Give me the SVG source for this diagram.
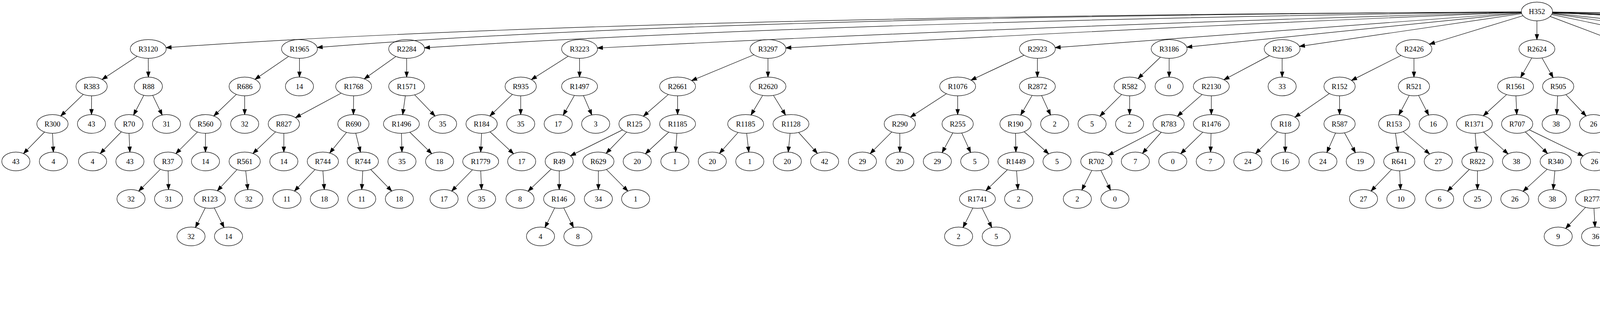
<svg xmlns="http://www.w3.org/2000/svg" width="6432" height="827" viewBox="0 0 6432 827">
<defs>
<style>
.n ellipse{fill:none;stroke:#000;stroke-width:1.2}
.n text{font-family:"Liberation Serif","Times New Roman",serif;font-size:18.67px;text-anchor:middle;fill:#000}
.e path{fill:none;stroke:#000;stroke-width:1.2;marker-end:url(#ah)}
</style>
<marker id="ah" markerUnits="userSpaceOnUse" markerWidth="16" markerHeight="12" refX="13.3" refY="4.7" orient="auto" overflow="visible"><path d="M0,0 L13.3,4.7 L0,9.4 z" fill="#000" stroke="#000" stroke-width="1.2"/></marker>
</defs>
<rect width="6432" height="827" fill="#fff"/>
<g id="edges" class="e">
<path d="M3894.5,30.4 Q1535.3,42.3 425.1,122.1"/>
<path d="M3894.5,30.5 Q1798.4,42.3 812,121.6"/>
<path d="M3894.5,30.6 Q2153.7,53.6 1086.7,122.4"/>
<path d="M3894.5,30.9 Q2593.6,67.7 1529.4,123"/>
<path d="M3894.6,31.2 Q2896.7,72.4 2011.7,122.7"/>
<path d="M3894.8,32.3 L2701.2,121.9"/>
<path d="M3895.1,33.3 L3038.1,120.7"/>
<path d="M3895.6,35 L3326.6,118.8"/>
<path d="M3898.8,40.2 L3659.4,113.2"/>
<path d="M3934.5,53.3 L3934.5,101.3"/>
<path d="M3968.4,42.1 L4151.3,111.2"/>
<path d="M3972.3,37.2 L4351.9,116.4"/>
<path d="M3973.4,34.9 L4554.2,118.9"/>
<path d="M3973.9,33.6 L4768,120.4"/>
<path d="M3974.1,32.8 Q4568.9,54.1 4965.5,118"/>
<path d="M3974.2,32.2 Q4688.8,65.8 5206.3,120.5"/>
<path d="M3974.3,31.5 Q4874.7,69.6 5611.4,122.1"/>
<path d="M3974.4,31.1 Q5172.3,63 6039.7,122.2"/>
<path d="M3974.4,30.9 Q5682.2,48.8 6251.5,120.5"/>
<path d="M351,144.2 L261.4,203.5"/>
<path d="M379.5,149.3 L379.8,197.3"/>
<path d="M213.3,241.6 L155.5,297"/>
<path d="M234.5,245.3 L234.2,293.3"/>
<path d="M368.1,244 L341.9,294.6"/>
<path d="M390.9,244.1 L415.2,294.5"/>
<path d="M114.1,338 L60.2,393.2"/>
<path d="M134.4,341.3 L136.6,389.3"/>
<path d="M310.6,337.5 L256.6,393.1"/>
<path d="M330.3,341.3 L332.5,389.3"/>
<path d="M738.7,144.4 L652.8,203.3"/>
<path d="M766.6,149.3 L766.6,197.3"/>
<path d="M605.1,241.6 L547.3,297"/>
<path d="M626.4,245.3 L626.4,293.3"/>
<path d="M505.5,337.9 L450.3,393.3"/>
<path d="M526,341.3 L526,389.3"/>
<path d="M410.6,433.3 L355.2,489.3"/>
<path d="M430.4,437.3 L431.5,485.3"/>
<path d="M1013.7,144.6 L932.6,202"/>
<path d="M1041,149.3 L1041,197.3"/>
<path d="M873.3,238.5 L756.4,301.3"/>
<path d="M905.3,245.3 L904.7,293.3"/>
<path d="M705.4,337.6 L647.6,393"/>
<path d="M726.6,341.3 L726.6,389.3"/>
<path d="M606.9,434.2 L556.5,488.4"/>
<path d="M629,437.2 L634.4,485.4"/>
<path d="M525.5,532.3 L500.4,582.5"/>
<path d="M548.5,532.3 L573.6,582.5"/>
<path d="M887.1,338.9 L844.1,391.7"/>
<path d="M910.7,341 L922.8,389.6"/>
<path d="M806.6,434.1 L753.9,489.1"/>
<path d="M826.6,437.3 L830.2,485.3"/>
<path d="M928.7,437.3 L926.1,485.3"/>
<path d="M949,434 L1002.8,489.2"/>
<path d="M1037.7,245.2 L1030.9,293.4"/>
<path d="M1061.6,242.8 L1113.6,297.1"/>
<path d="M1027.6,341.3 L1029,389.3"/>
<path d="M1049.2,338.5 L1105.2,393.4"/>
<path d="M1454.5,143.9 L1360.4,203.8"/>
<path d="M1483.6,149.3 L1483.6,197.3"/>
<path d="M1311.8,241.6 L1254.1,297"/>
<path d="M1333,245.3 L1333,293.3"/>
<path d="M1232.9,341.3 L1230.5,389.3"/>
<path d="M1254.5,337.5 L1314.6,393.8"/>
<path d="M1209.6,434.7 L1156.4,489.2"/>
<path d="M1230.6,437.3 L1232.8,485.3"/>
<path d="M1470.5,244.3 L1441.8,294.9"/>
<path d="M1493.7,244.7 L1515,294.2"/>
<path d="M1930,140.2 L1770.6,206.4"/>
<path d="M1966,149.3 L1966,197.3"/>
<path d="M1711,241.9 L1647.1,297.5"/>
<path d="M1734.6,245.3 L1734.6,293.3"/>
<path d="M1593.6,332.6 L1460.4,398.9"/>
<path d="M1604.4,338.1 L1551.8,392.5"/>
<path d="M1411,433 L1351.9,489.6"/>
<path d="M1431.6,437.3 L1431.6,485.3"/>
<path d="M1420.1,532.3 L1395.1,582.5"/>
<path d="M1443.1,532.3 L1468.1,582.5"/>
<path d="M1531.8,437.3 L1531.8,485.3"/>
<path d="M1552.3,433.9 L1607.3,489.3"/>
<path d="M1712.1,338.2 L1652.3,393.8"/>
<path d="M1732.9,341.3 L1729.4,389.3"/>
<path d="M1952.4,244.2 L1922.5,294.4"/>
<path d="M1980,244.2 L2010.9,294.4"/>
<path d="M1889.5,339.1 L1841.9,392.7"/>
<path d="M1911.5,341.2 L1916.9,389.4"/>
<path d="M2022.6,341.3 L2017.9,389.3"/>
<path d="M2044.4,339 L2092.5,392.7"/>
<path d="M2621.5,141.4 L2485.8,205.2"/>
<path d="M2655.7,149.3 L2655.7,197.3"/>
<path d="M2422.8,240 L2330.7,299.7"/>
<path d="M2451.6,245.3 L2451.6,293.3"/>
<path d="M2283,337.9 L2227.7,393.3"/>
<path d="M2303.5,341.3 L2303.5,389.3"/>
<path d="M2439.2,340.1 L2411.8,390.7"/>
<path d="M2462.1,340.5 L2484.8,390.3"/>
<path d="M2642.3,244.3 L2612.9,294.6"/>
<path d="M2666.5,244.6 L2689.4,294.4"/>
<path d="M2599.7,341.3 L2600.7,389.3"/>
<path d="M2621.8,337.3 L2684.6,394"/>
<path d="M2579,434.5 L2523.9,488.1"/>
<path d="M2602.4,437.3 L2605.9,485.3"/>
<path d="M2490.5,532.5 L2465.4,582.5"/>
<path d="M2513.9,532.5 L2539,582.5"/>
<path d="M2970.9,146.3 L2913.4,201"/>
<path d="M2993,149.3 L2993,197.3"/>
<path d="M2871.4,241.9 L2815.7,297.4"/>
<path d="M2892,245.3 L2891.7,293.3"/>
<path d="M3250,142.4 L3133.3,204.2"/>
<path d="M3282.3,149.3 L3282.3,197.3"/>
<path d="M3077.5,241.9 L3014.2,297.5"/>
<path d="M3101,245.3 L3101,293.3"/>
<path d="M2961.4,333 L2836.9,397.6"/>
<path d="M2972.8,338.5 L2924.8,392.6"/>
<path d="M2795.1,436.3 L2769.5,486.6"/>
<path d="M2818.1,436.3 L2843,486.6"/>
<path d="M3079.3,338.4 L3022.7,393.5"/>
<path d="M3100.3,341.3 L3099,389.3"/>
<path d="M3586.6,142 L3459.9,205.9"/>
<path d="M3619.7,149.3 L3619.7,197.3"/>
<path d="M3403.1,239.4 L3315.2,300"/>
<path d="M3429.3,245.3 L3429.3,293.3"/>
<path d="M3270.3,337.3 L3214.4,393.3"/>
<path d="M3290.2,341.3 L3290.2,389.3"/>
<path d="M3419,340.5 L3396.8,390.3"/>
<path d="M3441.9,340.1 L3469.9,390.8"/>
<path d="M3607.6,244.2 L3581.2,294.4"/>
<path d="M3631.5,244.2 L3657.3,294.6"/>
<path d="M3572.4,341.2 L3578.9,389.4"/>
<path d="M3592.2,336.9 L3659.8,394.4"/>
<path d="M3562.3,434.1 L3509.9,489.1"/>
<path d="M3583.2,437.3 L3585.3,485.3"/>
<path d="M3921.4,148.3 L3892.9,198.3"/>
<path d="M3947.5,148.3 L3976,198.6"/>
<path d="M3856.9,242.1 L3797.3,296.5"/>
<path d="M3880.8,245.3 L3882.9,293.3"/>
<path d="M3776.4,341.3 L3780.3,389.3"/>
<path d="M3797.7,338 L3860.6,394.1"/>
<path d="M3761.6,433.8 L3705.6,489.4"/>
<path d="M3782.3,437.3 L3782.3,485.3"/>
<path d="M3904.9,337.7 L3961.7,392.9"/>
<path d="M3915,332.4 L4052.8,399.2"/>
<path d="M3960.8,433.4 L3899.2,489.9"/>
<path d="M3980.5,437.3 L3976.2,485.3"/>
<path d="M3987.6,245.3 L3985.1,293.3"/>
<path d="M4008.6,242.2 L4060.3,297"/>
<path d="M4188.6,149.3 L4188.6,197.3"/>
<path d="M4212.2,145.9 L4276.7,202.2"/>
<path d="M4187.8,245.3 L4186,293.3"/>
<path d="M4212.6,241.8 L4277,296.8"/>
<path d="M4185.2,341.3 L4185.2,389.3"/>
<path d="M4209.7,337.6 L4276.5,393"/>
<path d="M4163.8,432.6 L4102.1,488.5"/>
<path d="M4187.8,437.2 L4192.9,485.3"/>
<path d="M4058.9,530.9 L4008.1,585"/>
<path d="M4080.5,533.3 L4083.3,581.3"/>
<path d="M4194.1,533.3 L4191.4,581.3"/>
<path d="M4215.9,530.8 L4267.3,585"/>
<path d="M4301,437.3 L4301,485.3"/>
<path d="M4322.3,434.6 L4377,489.3"/>
<path d="M4330.5,335.7 L4426.8,396"/>
<path d="M4338.2,331.4 L4523.1,401.4"/>
<path d="M4464.7,436.5 L4486.7,486.1"/>
<path d="M4481.1,431.2 L4571.4,492.2"/>
<path d="M4485.2,532.3 L4459.8,582.1"/>
<path d="M4510.2,532 L4540.3,583"/>
<path d="M4436.3,628.5 L4411.2,678.5"/>
<path d="M4459.6,628.5 L4484.5,678.5"/>
<path d="M4320.1,240.5 L4384.7,298.1"/>
<path d="M4327.9,235.1 L4473,303.5"/>
<path d="M4394.6,149.3 L4394.6,197.3"/>
<path d="M4415.8,146.6 L4470.4,201.3"/>
<path d="M4598.5,149.3 L4598.5,197.3"/>
<path d="M4622,145.9 L4684.1,200.7"/>
<path d="M4598.5,245.3 L4598.5,293.3"/>
<path d="M4619.1,241.9 L4674.5,297.3"/>
<path d="M4726.3,243.2 L4771.8,296.4"/>
<path d="M4739.6,238.5 L4858,302.2"/>
<path d="M4813,149.3 L4813,197.3"/>
<path d="M4834.3,146.6 L4889.1,201.3"/>
<path d="M5009.3,149.3 L5009.3,197.3"/>
<path d="M5031.2,146.4 L5088.7,201.6"/>
<path d="M5004.9,245.2 L4995.9,293.4"/>
<path d="M5029.2,242.1 L5081.4,296.5"/>
<path d="M4969.3,338.3 L4912.6,392.3"/>
<path d="M4992.4,341.3 L4994.6,389.3"/>
<path d="M4878.8,436.5 L4853.7,486.5"/>
<path d="M4902,436.5 L4926.7,486.5"/>
<path d="M5100.5,341.3 L5099,389.3"/>
<path d="M5121.4,338.1 L5174.7,393.1"/>
<path d="M5251.4,149.3 L5251.4,197.3"/>
<path d="M5280,144.1 L5370.2,203.6"/>
<path d="M5239.3,244.5 L5213,294.6"/>
<path d="M5262.4,244.6 L5286.1,294.4"/>
<path d="M5397.1,245.3 L5397.1,293.3"/>
<path d="M5418.3,241.7 L5476.5,297.6"/>
<path d="M5376.4,337.8 L5320.4,393.4"/>
<path d="M5397.1,341.3 L5397.1,389.3"/>
<path d="M5657,149.3 L5657,197.3"/>
<path d="M5692.5,140.5 L5848.5,207.4"/>
<path d="M5643.8,244.3 L5615.2,294.3"/>
<path d="M5670.1,244.3 L5698.8,294.6"/>
<path d="M5579.2,338.1 L5518.9,393.2"/>
<path d="M5600.7,341.3 L5598.1,389.3"/>
<path d="M5485.5,436.3 L5460.4,486.5"/>
<path d="M5508.5,436.3 L5533.8,486.5"/>
<path d="M5707.2,341.2 L5697.8,389.4"/>
<path d="M5729.2,338.9 L5772,392.2"/>
<path d="M5881,245.3 L5881,293.3"/>
<path d="M5902.2,241.7 L5960.4,297.6"/>
<path d="M5882,341.3 L5883.9,389.3"/>
<path d="M5902.2,337.7 L5960.4,393.6"/>
<path d="M6085.3,149.3 L6085.3,197.3"/>
<path d="M6108.1,146.2 L6168.9,201.9"/>
<path d="M6085.3,245.3 L6086.5,293.3"/>
<path d="M6108.3,242.1 L6170,298"/>
<path d="M6086.5,341.3 L6086.5,389.3"/>
<path d="M6110,337.9 L6173.3,393.5"/>
<path d="M6062.2,433.7 L5996.3,488.9"/>
<path d="M6086.5,437.3 L6087.2,485.3"/>
<path d="M5950.1,530.4 L5894.1,584.2"/>
<path d="M5973.2,533.3 L5975.8,581.3"/>
<path d="M5859.2,628.3 L5831,678.3"/>
<path d="M5884.5,628.4 L5911.3,678.7"/>
<path d="M5806.5,724.5 L5781.7,774.5"/>
<path d="M5829.7,724.5 L5855,774.6"/>
<path d="M6086,533.3 L6083.4,581.3"/>
<path d="M6107.6,530.8 L6159,585"/>
<path d="M6195.4,437.3 L6194.5,485.3"/>
<path d="M6216.2,434 L6270.3,489.2"/>
<path d="M6290.7,149.3 L6290.7,197.3"/>
<path d="M6311.9,145.7 L6370,201.6"/>
<path d="M6290.2,245.3 L6289.3,293.3"/>
<path d="M6311,242 L6365.4,297.2"/>
</g>
<g id="nodes">
<g id="n0" class="n"><ellipse cx="3934.5" cy="29.3" rx="40" ry="24"/><text x="3934.5" y="35.6">H352</text></g>
<g id="n1" class="n"><ellipse cx="379.5" cy="125.3" rx="46" ry="24"/><text x="379.5" y="131.6">R3120</text></g>
<g id="n2" class="n"><ellipse cx="766.6" cy="125.3" rx="46" ry="24"/><text x="766.6" y="131.6">R1965</text></g>
<g id="n3" class="n"><ellipse cx="1041" cy="125.3" rx="46" ry="24"/><text x="1041" y="131.6">R2284</text></g>
<g id="n4" class="n"><ellipse cx="1483.6" cy="125.3" rx="46" ry="24"/><text x="1483.6" y="131.6">R3223</text></g>
<g id="n5" class="n"><ellipse cx="1966" cy="125.3" rx="46" ry="24"/><text x="1966" y="131.6">R3297</text></g>
<g id="n6" class="n"><ellipse cx="2655.7" cy="125.3" rx="46" ry="24"/><text x="2655.7" y="131.6">R2923</text></g>
<g id="n7" class="n"><ellipse cx="2993" cy="125.3" rx="46" ry="24"/><text x="2993" y="131.6">R3186</text></g>
<g id="n8" class="n"><ellipse cx="3282.3" cy="125.3" rx="46" ry="24"/><text x="3282.3" y="131.6">R2136</text></g>
<g id="n9" class="n"><ellipse cx="3619.7" cy="125.3" rx="46" ry="24"/><text x="3619.7" y="131.6">R2426</text></g>
<g id="n10" class="n"><ellipse cx="3934.5" cy="125.3" rx="46" ry="24"/><text x="3934.5" y="131.6">R2624</text></g>
<g id="n11" class="n"><ellipse cx="4188.6" cy="125.3" rx="46" ry="24"/><text x="4188.6" y="131.6">R3298</text></g>
<g id="n12" class="n"><ellipse cx="4394.6" cy="125.3" rx="46" ry="24"/><text x="4394.6" y="131.6">R1648</text></g>
<g id="n13" class="n"><ellipse cx="4598.5" cy="125.3" rx="46" ry="24"/><text x="4598.5" y="131.6">R1001</text></g>
<g id="n14" class="n"><ellipse cx="4813" cy="125.3" rx="46" ry="24"/><text x="4813" y="131.6">R1121</text></g>
<g id="n15" class="n"><ellipse cx="5009.3" cy="125.3" rx="46" ry="24"/><text x="5009.3" y="131.6">R2841</text></g>
<g id="n16" class="n"><ellipse cx="5251.4" cy="125.3" rx="46" ry="24"/><text x="5251.4" y="131.6">R3232</text></g>
<g id="n17" class="n"><ellipse cx="5657" cy="125.3" rx="46" ry="24"/><text x="5657" y="131.6">R3184</text></g>
<g id="n18" class="n"><ellipse cx="6085.3" cy="125.3" rx="46" ry="24"/><text x="6085.3" y="131.6">R3099</text></g>
<g id="n19" class="n"><ellipse cx="6290.7" cy="125.3" rx="40" ry="24"/><text x="6290.7" y="131.6">R222</text></g>
<g id="n20" class="n"><ellipse cx="234.5" cy="221.3" rx="40" ry="24"/><text x="234.5" y="227.6">R383</text></g>
<g id="n21" class="n"><ellipse cx="379.8" cy="221.3" rx="36" ry="24"/><text x="379.8" y="227.6">R88</text></g>
<g id="n22" class="n"><ellipse cx="626.4" cy="221.3" rx="40" ry="24"/><text x="626.4" y="227.6">R686</text></g>
<g id="n23" class="n"><ellipse cx="766.6" cy="221.3" rx="36" ry="24"/><text x="766.6" y="227.6">14</text></g>
<g id="n24" class="n"><ellipse cx="905.3" cy="221.3" rx="46" ry="24"/><text x="905.3" y="227.6">R1768</text></g>
<g id="n25" class="n"><ellipse cx="1041" cy="221.3" rx="46" ry="24"/><text x="1041" y="227.6">R1571</text></g>
<g id="n26" class="n"><ellipse cx="1333" cy="221.3" rx="40" ry="24"/><text x="1333" y="227.6">R935</text></g>
<g id="n27" class="n"><ellipse cx="1483.6" cy="221.3" rx="46" ry="24"/><text x="1483.6" y="227.6">R1497</text></g>
<g id="n28" class="n"><ellipse cx="1734.6" cy="221.3" rx="46" ry="24"/><text x="1734.6" y="227.6">R2661</text></g>
<g id="n29" class="n"><ellipse cx="1966" cy="221.3" rx="46" ry="24"/><text x="1966" y="227.6">R2620</text></g>
<g id="n30" class="n"><ellipse cx="2451.6" cy="221.3" rx="46" ry="24"/><text x="2451.6" y="227.6">R1076</text></g>
<g id="n31" class="n"><ellipse cx="2655.7" cy="221.3" rx="46" ry="24"/><text x="2655.7" y="227.6">R2872</text></g>
<g id="n32" class="n"><ellipse cx="2892" cy="221.3" rx="40" ry="24"/><text x="2892" y="227.6">R582</text></g>
<g id="n33" class="n"><ellipse cx="2993" cy="221.3" rx="36" ry="24"/><text x="2993" y="227.6">0</text></g>
<g id="n34" class="n"><ellipse cx="3101" cy="221.3" rx="46" ry="24"/><text x="3101" y="227.6">R2130</text></g>
<g id="n35" class="n"><ellipse cx="3282.3" cy="221.3" rx="36" ry="24"/><text x="3282.3" y="227.6">33</text></g>
<g id="n36" class="n"><ellipse cx="3429.3" cy="221.3" rx="40" ry="24"/><text x="3429.3" y="227.6">R152</text></g>
<g id="n37" class="n"><ellipse cx="3619.7" cy="221.3" rx="40" ry="24"/><text x="3619.7" y="227.6">R521</text></g>
<g id="n38" class="n"><ellipse cx="3879.8" cy="221.3" rx="46" ry="24"/><text x="3879.8" y="227.6">R1561</text></g>
<g id="n39" class="n"><ellipse cx="3988.9" cy="221.3" rx="40" ry="24"/><text x="3988.9" y="227.6">R505</text></g>
<g id="n40" class="n"><ellipse cx="4188.6" cy="221.3" rx="46" ry="24"/><text x="4188.6" y="227.6">R3191</text></g>
<g id="n41" class="n"><ellipse cx="4298.5" cy="221.3" rx="36" ry="24"/><text x="4298.5" y="227.6">R63</text></g>
<g id="n42" class="n"><ellipse cx="4394.6" cy="221.3" rx="36" ry="24"/><text x="4394.6" y="227.6">32</text></g>
<g id="n43" class="n"><ellipse cx="4490.3" cy="221.3" rx="36" ry="24"/><text x="4490.3" y="227.6">36</text></g>
<g id="n44" class="n"><ellipse cx="4598.5" cy="221.3" rx="40" ry="24"/><text x="4598.5" y="227.6">R195</text></g>
<g id="n45" class="n"><ellipse cx="4707.6" cy="221.3" rx="46" ry="24"/><text x="4707.6" y="227.6">R1121</text></g>
<g id="n46" class="n"><ellipse cx="4813" cy="221.3" rx="36" ry="24"/><text x="4813" y="227.6">41</text></g>
<g id="n47" class="n"><ellipse cx="4909.1" cy="221.3" rx="36" ry="24"/><text x="4909.1" y="227.6">40</text></g>
<g id="n48" class="n"><ellipse cx="5009.3" cy="221.3" rx="40" ry="24"/><text x="5009.3" y="227.6">R755</text></g>
<g id="n49" class="n"><ellipse cx="5109.2" cy="221.3" rx="36" ry="24"/><text x="5109.2" y="227.6">40</text></g>
<g id="n50" class="n"><ellipse cx="5251.4" cy="221.3" rx="46" ry="24"/><text x="5251.4" y="227.6">R1853</text></g>
<g id="n51" class="n"><ellipse cx="5397.1" cy="221.3" rx="40" ry="24"/><text x="5397.1" y="227.6">R738</text></g>
<g id="n52" class="n"><ellipse cx="5657" cy="221.3" rx="46" ry="24"/><text x="5657" y="227.6">R2056</text></g>
<g id="n53" class="n"><ellipse cx="5881" cy="221.3" rx="40" ry="24"/><text x="5881" y="227.6">R737</text></g>
<g id="n54" class="n"><ellipse cx="6085.3" cy="221.3" rx="46" ry="24"/><text x="6085.3" y="227.6">R2653</text></g>
<g id="n55" class="n"><ellipse cx="6190.1" cy="221.3" rx="36" ry="24"/><text x="6190.1" y="227.6">39</text></g>
<g id="n56" class="n"><ellipse cx="6290.7" cy="221.3" rx="40" ry="24"/><text x="6290.7" y="227.6">R139</text></g>
<g id="n57" class="n"><ellipse cx="6390.5" cy="221.3" rx="36" ry="24"/><text x="6390.5" y="227.6">23</text></g>
<g id="n58" class="n"><ellipse cx="134.3" cy="317.3" rx="40" ry="24"/><text x="134.3" y="323.6">R300</text></g>
<g id="n59" class="n"><ellipse cx="234.2" cy="317.3" rx="36" ry="24"/><text x="234.2" y="323.6">43</text></g>
<g id="n60" class="n"><ellipse cx="330.2" cy="317.3" rx="36" ry="24"/><text x="330.2" y="323.6">R70</text></g>
<g id="n61" class="n"><ellipse cx="426.3" cy="317.3" rx="36" ry="24"/><text x="426.3" y="323.6">31</text></g>
<g id="n62" class="n"><ellipse cx="526" cy="317.3" rx="40" ry="24"/><text x="526" y="323.6">R560</text></g>
<g id="n63" class="n"><ellipse cx="626.4" cy="317.3" rx="36" ry="24"/><text x="626.4" y="323.6">32</text></g>
<g id="n64" class="n"><ellipse cx="726.6" cy="317.3" rx="40" ry="24"/><text x="726.6" y="323.6">R827</text></g>
<g id="n65" class="n"><ellipse cx="904.7" cy="317.3" rx="40" ry="24"/><text x="904.7" y="323.6">R690</text></g>
<g id="n66" class="n"><ellipse cx="1027.6" cy="317.3" rx="46" ry="24"/><text x="1027.6" y="323.6">R1496</text></g>
<g id="n67" class="n"><ellipse cx="1133" cy="317.3" rx="36" ry="24"/><text x="1133" y="323.6">35</text></g>
<g id="n68" class="n"><ellipse cx="1232.9" cy="317.3" rx="40" ry="24"/><text x="1232.9" y="323.6">R184</text></g>
<g id="n69" class="n"><ellipse cx="1333" cy="317.3" rx="36" ry="24"/><text x="1333" y="323.6">35</text></g>
<g id="n70" class="n"><ellipse cx="1429" cy="317.3" rx="36" ry="24"/><text x="1429" y="323.6">17</text></g>
<g id="n71" class="n"><ellipse cx="1524.9" cy="317.3" rx="36" ry="24"/><text x="1524.9" y="323.6">3</text></g>
<g id="n72" class="n"><ellipse cx="1624.4" cy="317.3" rx="40" ry="24"/><text x="1624.4" y="323.6">R125</text></g>
<g id="n73" class="n"><ellipse cx="1734.6" cy="317.3" rx="46" ry="24"/><text x="1734.6" y="323.6">R1185</text></g>
<g id="n74" class="n"><ellipse cx="1908.9" cy="317.3" rx="46" ry="24"/><text x="1908.9" y="323.6">R1185</text></g>
<g id="n75" class="n"><ellipse cx="2024.9" cy="317.3" rx="46" ry="24"/><text x="2024.9" y="323.6">R1128</text></g>
<g id="n76" class="n"><ellipse cx="2303.5" cy="317.3" rx="40" ry="24"/><text x="2303.5" y="323.6">R290</text></g>
<g id="n77" class="n"><ellipse cx="2451.6" cy="317.3" rx="40" ry="24"/><text x="2451.6" y="323.6">R255</text></g>
<g id="n78" class="n"><ellipse cx="2599.7" cy="317.3" rx="40" ry="24"/><text x="2599.7" y="323.6">R190</text></g>
<g id="n79" class="n"><ellipse cx="2700" cy="317.3" rx="36" ry="24"/><text x="2700" y="323.6">2</text></g>
<g id="n80" class="n"><ellipse cx="2795.7" cy="317.3" rx="36" ry="24"/><text x="2795.7" y="323.6">5</text></g>
<g id="n81" class="n"><ellipse cx="2891.7" cy="317.3" rx="36" ry="24"/><text x="2891.7" y="323.6">2</text></g>
<g id="n82" class="n"><ellipse cx="2991.6" cy="317.3" rx="40" ry="24"/><text x="2991.6" y="323.6">R783</text></g>
<g id="n83" class="n"><ellipse cx="3101" cy="317.3" rx="46" ry="24"/><text x="3101" y="323.6">R1476</text></g>
<g id="n84" class="n"><ellipse cx="3290.2" cy="317.3" rx="36" ry="24"/><text x="3290.2" y="323.6">R18</text></g>
<g id="n85" class="n"><ellipse cx="3429.3" cy="317.3" rx="40" ry="24"/><text x="3429.3" y="323.6">R587</text></g>
<g id="n86" class="n"><ellipse cx="3569.1" cy="317.3" rx="40" ry="24"/><text x="3569.1" y="323.6">R153</text></g>
<g id="n87" class="n"><ellipse cx="3669" cy="317.3" rx="36" ry="24"/><text x="3669" y="323.6">16</text></g>
<g id="n88" class="n"><ellipse cx="3774.4" cy="317.3" rx="46" ry="24"/><text x="3774.4" y="323.6">R1371</text></g>
<g id="n89" class="n"><ellipse cx="3883.9" cy="317.3" rx="40" ry="24"/><text x="3883.9" y="323.6">R707</text></g>
<g id="n90" class="n"><ellipse cx="3983.8" cy="317.3" rx="36" ry="24"/><text x="3983.8" y="323.6">38</text></g>
<g id="n91" class="n"><ellipse cx="4079.5" cy="317.3" rx="36" ry="24"/><text x="4079.5" y="323.6">26</text></g>
<g id="n92" class="n"><ellipse cx="4185.2" cy="317.3" rx="46" ry="24"/><text x="4185.2" y="323.6">R2541</text></g>
<g id="n93" class="n"><ellipse cx="4301" cy="317.3" rx="46" ry="24"/><text x="4301" y="323.6">R2334</text></g>
<g id="n94" class="n"><ellipse cx="4406.3" cy="317.3" rx="36" ry="24"/><text x="4406.3" y="323.6">36</text></g>
<g id="n95" class="n"><ellipse cx="4502.4" cy="317.3" rx="36" ry="24"/><text x="4502.4" y="323.6">15</text></g>
<g id="n96" class="n"><ellipse cx="4598.5" cy="317.3" rx="36" ry="24"/><text x="4598.5" y="323.6">15</text></g>
<g id="n97" class="n"><ellipse cx="4694.5" cy="317.3" rx="36" ry="24"/><text x="4694.5" y="323.6">37</text></g>
<g id="n98" class="n"><ellipse cx="4789.6" cy="317.3" rx="36" ry="24"/><text x="4789.6" y="323.6">41</text></g>
<g id="n99" class="n"><ellipse cx="4886" cy="317.3" rx="36" ry="24"/><text x="4886" y="323.6">40</text></g>
<g id="n100" class="n"><ellipse cx="4991.4" cy="317.3" rx="46" ry="24"/><text x="4991.4" y="323.6">R2686</text></g>
<g id="n101" class="n"><ellipse cx="5101.3" cy="317.3" rx="40" ry="24"/><text x="5101.3" y="323.6">R417</text></g>
<g id="n102" class="n"><ellipse cx="5201.1" cy="317.3" rx="36" ry="24"/><text x="5201.1" y="323.6">21</text></g>
<g id="n103" class="n"><ellipse cx="5296.9" cy="317.3" rx="36" ry="24"/><text x="5296.9" y="323.6">40</text></g>
<g id="n104" class="n"><ellipse cx="5397.1" cy="317.3" rx="40" ry="24"/><text x="5397.1" y="323.6">R116</text></g>
<g id="n105" class="n"><ellipse cx="5497" cy="317.3" rx="36" ry="24"/><text x="5497" y="323.6">21</text></g>
<g id="n106" class="n"><ellipse cx="5602" cy="317.3" rx="46" ry="24"/><text x="5602" y="323.6">R2098</text></g>
<g id="n107" class="n"><ellipse cx="5711.8" cy="317.3" rx="40" ry="24"/><text x="5711.8" y="323.6">R116</text></g>
<g id="n108" class="n"><ellipse cx="5881" cy="317.3" rx="40" ry="24"/><text x="5881" y="323.6">R116</text></g>
<g id="n109" class="n"><ellipse cx="5980.9" cy="317.3" rx="36" ry="24"/><text x="5980.9" y="323.6">39</text></g>
<g id="n110" class="n"><ellipse cx="6086.5" cy="317.3" rx="46" ry="24"/><text x="6086.5" y="323.6">R2282</text></g>
<g id="n111" class="n"><ellipse cx="6191.3" cy="317.3" rx="36" ry="24"/><text x="6191.3" y="323.6">23</text></g>
<g id="n112" class="n"><ellipse cx="6288.8" cy="317.3" rx="36" ry="24"/><text x="6288.8" y="323.6">23</text></g>
<g id="n113" class="n"><ellipse cx="6385.2" cy="317.3" rx="36" ry="24"/><text x="6385.2" y="323.6">39</text></g>
<g id="n114" class="n"><ellipse cx="40.6" cy="413.3" rx="36" ry="24"/><text x="40.6" y="419.6">43</text></g>
<g id="n115" class="n"><ellipse cx="136.7" cy="413.3" rx="36" ry="24"/><text x="136.7" y="419.6">4</text></g>
<g id="n116" class="n"><ellipse cx="237" cy="413.3" rx="36" ry="24"/><text x="237" y="419.6">4</text></g>
<g id="n117" class="n"><ellipse cx="332.6" cy="413.3" rx="36" ry="24"/><text x="332.6" y="419.6">43</text></g>
<g id="n118" class="n"><ellipse cx="430.4" cy="413.3" rx="36" ry="24"/><text x="430.4" y="419.6">R37</text></g>
<g id="n119" class="n"><ellipse cx="526" cy="413.3" rx="36" ry="24"/><text x="526" y="419.6">14</text></g>
<g id="n120" class="n"><ellipse cx="626.4" cy="413.3" rx="40" ry="24"/><text x="626.4" y="419.6">R561</text></g>
<g id="n121" class="n"><ellipse cx="726.6" cy="413.3" rx="36" ry="24"/><text x="726.6" y="419.6">14</text></g>
<g id="n122" class="n"><ellipse cx="826.5" cy="413.3" rx="40" ry="24"/><text x="826.5" y="419.6">R744</text></g>
<g id="n123" class="n"><ellipse cx="928.8" cy="413.3" rx="40" ry="24"/><text x="928.8" y="419.6">R744</text></g>
<g id="n124" class="n"><ellipse cx="1029" cy="413.3" rx="36" ry="24"/><text x="1029" y="419.6">35</text></g>
<g id="n125" class="n"><ellipse cx="1125.4" cy="413.3" rx="36" ry="24"/><text x="1125.4" y="419.6">18</text></g>
<g id="n126" class="n"><ellipse cx="1230.5" cy="413.3" rx="46" ry="24"/><text x="1230.5" y="419.6">R1779</text></g>
<g id="n127" class="n"><ellipse cx="1335.5" cy="413.3" rx="36" ry="24"/><text x="1335.5" y="419.6">17</text></g>
<g id="n128" class="n"><ellipse cx="1431.6" cy="413.3" rx="36" ry="24"/><text x="1431.6" y="419.6">R49</text></g>
<g id="n129" class="n"><ellipse cx="1531.8" cy="413.3" rx="40" ry="24"/><text x="1531.8" y="419.6">R629</text></g>
<g id="n130" class="n"><ellipse cx="1631.3" cy="413.3" rx="36" ry="24"/><text x="1631.3" y="419.6">20</text></g>
<g id="n131" class="n"><ellipse cx="1727.7" cy="413.3" rx="36" ry="24"/><text x="1727.7" y="419.6">1</text></g>
<g id="n132" class="n"><ellipse cx="1823.5" cy="413.3" rx="36" ry="24"/><text x="1823.5" y="419.6">20</text></g>
<g id="n133" class="n"><ellipse cx="1919.5" cy="413.3" rx="36" ry="24"/><text x="1919.5" y="419.6">1</text></g>
<g id="n134" class="n"><ellipse cx="2015.6" cy="413.3" rx="36" ry="24"/><text x="2015.6" y="419.6">20</text></g>
<g id="n135" class="n"><ellipse cx="2111" cy="413.3" rx="36" ry="24"/><text x="2111" y="419.6">42</text></g>
<g id="n136" class="n"><ellipse cx="2207.8" cy="413.3" rx="36" ry="24"/><text x="2207.8" y="419.6">29</text></g>
<g id="n137" class="n"><ellipse cx="2303.5" cy="413.3" rx="36" ry="24"/><text x="2303.5" y="419.6">20</text></g>
<g id="n138" class="n"><ellipse cx="2399.6" cy="413.3" rx="36" ry="24"/><text x="2399.6" y="419.6">29</text></g>
<g id="n139" class="n"><ellipse cx="2495.3" cy="413.3" rx="36" ry="24"/><text x="2495.3" y="419.6">5</text></g>
<g id="n140" class="n"><ellipse cx="2600.7" cy="413.3" rx="46" ry="24"/><text x="2600.7" y="419.6">R1449</text></g>
<g id="n141" class="n"><ellipse cx="2706" cy="413.3" rx="36" ry="24"/><text x="2706" y="419.6">5</text></g>
<g id="n142" class="n"><ellipse cx="2806.7" cy="413.3" rx="40" ry="24"/><text x="2806.7" y="419.6">R702</text></g>
<g id="n143" class="n"><ellipse cx="2906.5" cy="413.3" rx="36" ry="24"/><text x="2906.5" y="419.6">7</text></g>
<g id="n144" class="n"><ellipse cx="3002.3" cy="413.3" rx="36" ry="24"/><text x="3002.3" y="419.6">0</text></g>
<g id="n145" class="n"><ellipse cx="3098.3" cy="413.3" rx="36" ry="24"/><text x="3098.3" y="419.6">7</text></g>
<g id="n146" class="n"><ellipse cx="3194.5" cy="413.3" rx="36" ry="24"/><text x="3194.5" y="419.6">24</text></g>
<g id="n147" class="n"><ellipse cx="3290.2" cy="413.3" rx="36" ry="24"/><text x="3290.2" y="419.6">16</text></g>
<g id="n148" class="n"><ellipse cx="3386.6" cy="413.3" rx="36" ry="24"/><text x="3386.6" y="419.6">24</text></g>
<g id="n149" class="n"><ellipse cx="3482.3" cy="413.3" rx="36" ry="24"/><text x="3482.3" y="419.6">19</text></g>
<g id="n150" class="n"><ellipse cx="3582.2" cy="413.3" rx="40" ry="24"/><text x="3582.2" y="419.6">R641</text></g>
<g id="n151" class="n"><ellipse cx="3682" cy="413.3" rx="36" ry="24"/><text x="3682" y="419.6">27</text></g>
<g id="n152" class="n"><ellipse cx="3782.3" cy="413.3" rx="40" ry="24"/><text x="3782.3" y="419.6">R822</text></g>
<g id="n153" class="n"><ellipse cx="3882.2" cy="413.3" rx="36" ry="24"/><text x="3882.2" y="419.6">38</text></g>
<g id="n154" class="n"><ellipse cx="3982.7" cy="413.3" rx="40" ry="24"/><text x="3982.7" y="419.6">R340</text></g>
<g id="n155" class="n"><ellipse cx="4081.9" cy="413.3" rx="36" ry="24"/><text x="4081.9" y="419.6">26</text></g>
<g id="n156" class="n"><ellipse cx="4185.2" cy="413.3" rx="36" ry="24"/><text x="4185.2" y="419.6">R99</text></g>
<g id="n157" class="n"><ellipse cx="4301" cy="413.3" rx="46" ry="24"/><text x="4301" y="419.6">R2774</text></g>
<g id="n158" class="n"><ellipse cx="4454.5" cy="413.3" rx="40" ry="24"/><text x="4454.5" y="419.6">R323</text></g>
<g id="n159" class="n"><ellipse cx="4554.4" cy="413.3" rx="36" ry="24"/><text x="4554.4" y="419.6">15</text></g>
<g id="n160" class="n"><ellipse cx="4890.5" cy="413.3" rx="46" ry="24"/><text x="4890.5" y="419.6">R1540</text></g>
<g id="n161" class="n"><ellipse cx="4995.6" cy="413.3" rx="36" ry="24"/><text x="4995.6" y="419.6">37</text></g>
<g id="n162" class="n"><ellipse cx="5098.2" cy="413.3" rx="36" ry="24"/><text x="5098.2" y="419.6">41</text></g>
<g id="n163" class="n"><ellipse cx="5194.2" cy="413.3" rx="36" ry="24"/><text x="5194.2" y="419.6">37</text></g>
<g id="n164" class="n"><ellipse cx="5300.3" cy="413.3" rx="36" ry="24"/><text x="5300.3" y="419.6">21</text></g>
<g id="n165" class="n"><ellipse cx="5397.1" cy="413.3" rx="36" ry="24"/><text x="5397.1" y="419.6">30</text></g>
<g id="n166" class="n"><ellipse cx="5497" cy="413.3" rx="40" ry="24"/><text x="5497" y="419.6">R136</text></g>
<g id="n167" class="n"><ellipse cx="5596.8" cy="413.3" rx="36" ry="24"/><text x="5596.8" y="419.6">30</text></g>
<g id="n168" class="n"><ellipse cx="5693.2" cy="413.3" rx="36" ry="24"/><text x="5693.2" y="419.6">21</text></g>
<g id="n169" class="n"><ellipse cx="5789" cy="413.3" rx="36" ry="24"/><text x="5789" y="419.6">30</text></g>
<g id="n170" class="n"><ellipse cx="5884.9" cy="413.3" rx="36" ry="24"/><text x="5884.9" y="419.6">21</text></g>
<g id="n171" class="n"><ellipse cx="5980.9" cy="413.3" rx="36" ry="24"/><text x="5980.9" y="419.6">30</text></g>
<g id="n172" class="n"><ellipse cx="6086.5" cy="413.3" rx="46" ry="24"/><text x="6086.5" y="419.6">R2272</text></g>
<g id="n173" class="n"><ellipse cx="6195.9" cy="413.3" rx="40" ry="24"/><text x="6195.9" y="419.6">R139</text></g>
<g id="n174" class="n"><ellipse cx="335.4" cy="509.3" rx="36" ry="24"/><text x="335.4" y="515.6">32</text></g>
<g id="n175" class="n"><ellipse cx="431.5" cy="509.3" rx="36" ry="24"/><text x="431.5" y="515.6">31</text></g>
<g id="n176" class="n"><ellipse cx="537" cy="509.3" rx="40" ry="24"/><text x="537" y="515.6">R123</text></g>
<g id="n177" class="n"><ellipse cx="637" cy="509.3" rx="36" ry="24"/><text x="637" y="515.6">32</text></g>
<g id="n178" class="n"><ellipse cx="734.5" cy="509.3" rx="36" ry="24"/><text x="734.5" y="515.6">11</text></g>
<g id="n179" class="n"><ellipse cx="830.3" cy="509.3" rx="36" ry="24"/><text x="830.3" y="515.6">18</text></g>
<g id="n180" class="n"><ellipse cx="926" cy="509.3" rx="36" ry="24"/><text x="926" y="515.6">11</text></g>
<g id="n181" class="n"><ellipse cx="1022.4" cy="509.3" rx="36" ry="24"/><text x="1022.4" y="515.6">18</text></g>
<g id="n182" class="n"><ellipse cx="1136.8" cy="509.3" rx="36" ry="24"/><text x="1136.8" y="515.6">17</text></g>
<g id="n183" class="n"><ellipse cx="1232.9" cy="509.3" rx="36" ry="24"/><text x="1232.9" y="515.6">35</text></g>
<g id="n184" class="n"><ellipse cx="1331.3" cy="509.3" rx="36" ry="24"/><text x="1331.3" y="515.6">8</text></g>
<g id="n185" class="n"><ellipse cx="1431.6" cy="509.3" rx="40" ry="24"/><text x="1431.6" y="515.6">R146</text></g>
<g id="n186" class="n"><ellipse cx="1531.8" cy="509.3" rx="36" ry="24"/><text x="1531.8" y="515.6">34</text></g>
<g id="n187" class="n"><ellipse cx="1627.2" cy="509.3" rx="36" ry="24"/><text x="1627.2" y="515.6">1</text></g>
<g id="n188" class="n"><ellipse cx="2502.2" cy="509.3" rx="46" ry="24"/><text x="2502.2" y="515.6">R1741</text></g>
<g id="n189" class="n"><ellipse cx="2607.6" cy="509.3" rx="36" ry="24"/><text x="2607.6" y="515.6">2</text></g>
<g id="n190" class="n"><ellipse cx="2758" cy="509.3" rx="36" ry="24"/><text x="2758" y="515.6">2</text></g>
<g id="n191" class="n"><ellipse cx="2854.2" cy="509.3" rx="36" ry="24"/><text x="2854.2" y="515.6">0</text></g>
<g id="n192" class="n"><ellipse cx="3490.6" cy="509.3" rx="36" ry="24"/><text x="3490.6" y="515.6">27</text></g>
<g id="n193" class="n"><ellipse cx="3586.3" cy="509.3" rx="36" ry="24"/><text x="3586.3" y="515.6">10</text></g>
<g id="n194" class="n"><ellipse cx="3685.5" cy="509.3" rx="36" ry="24"/><text x="3685.5" y="515.6">6</text></g>
<g id="n195" class="n"><ellipse cx="3782.3" cy="509.3" rx="36" ry="24"/><text x="3782.3" y="515.6">25</text></g>
<g id="n196" class="n"><ellipse cx="3878" cy="509.3" rx="36" ry="24"/><text x="3878" y="515.6">26</text></g>
<g id="n197" class="n"><ellipse cx="3974" cy="509.3" rx="36" ry="24"/><text x="3974" y="515.6">38</text></g>
<g id="n198" class="n"><ellipse cx="4079.1" cy="509.3" rx="46" ry="24"/><text x="4079.1" y="515.6">R2774</text></g>
<g id="n199" class="n"><ellipse cx="4195.5" cy="509.3" rx="46" ry="24"/><text x="4195.5" y="515.6">R2774</text></g>
<g id="n200" class="n"><ellipse cx="4301" cy="509.3" rx="36" ry="24"/><text x="4301" y="515.6">9</text></g>
<g id="n201" class="n"><ellipse cx="4397" cy="509.3" rx="36" ry="24"/><text x="4397" y="515.6">36</text></g>
<g id="n202" class="n"><ellipse cx="4496.9" cy="509.3" rx="40" ry="24"/><text x="4496.9" y="515.6">R396</text></g>
<g id="n203" class="n"><ellipse cx="4596.7" cy="509.3" rx="36" ry="24"/><text x="4596.7" y="515.6">36</text></g>
<g id="n204" class="n"><ellipse cx="4842.3" cy="509.3" rx="36" ry="24"/><text x="4842.3" y="515.6">37</text></g>
<g id="n205" class="n"><ellipse cx="4938" cy="509.3" rx="36" ry="24"/><text x="4938" y="515.6">41</text></g>
<g id="n206" class="n"><ellipse cx="5449" cy="509.3" rx="36" ry="24"/><text x="5449" y="515.6">30</text></g>
<g id="n207" class="n"><ellipse cx="5545.2" cy="509.3" rx="36" ry="24"/><text x="5545.2" y="515.6">21</text></g>
<g id="n208" class="n"><ellipse cx="5972" cy="509.3" rx="46" ry="24"/><text x="5972" y="515.6">R2250</text></g>
<g id="n209" class="n"><ellipse cx="6087.2" cy="509.3" rx="46" ry="24"/><text x="6087.2" y="515.6">R2072</text></g>
<g id="n210" class="n"><ellipse cx="6194" cy="509.3" rx="36" ry="24"/><text x="6194" y="515.6">23</text></g>
<g id="n211" class="n"><ellipse cx="6290" cy="509.3" rx="36" ry="24"/><text x="6290" y="515.6">39</text></g>
<g id="n212" class="n"><ellipse cx="489" cy="605.3" rx="36" ry="24"/><text x="489" y="611.6">32</text></g>
<g id="n213" class="n"><ellipse cx="585" cy="605.3" rx="36" ry="24"/><text x="585" y="611.6">14</text></g>
<g id="n214" class="n"><ellipse cx="1383.7" cy="605.3" rx="36" ry="24"/><text x="1383.7" y="611.6">4</text></g>
<g id="n215" class="n"><ellipse cx="1479.4" cy="605.3" rx="36" ry="24"/><text x="1479.4" y="611.6">8</text></g>
<g id="n216" class="n"><ellipse cx="2454" cy="605.3" rx="36" ry="24"/><text x="2454" y="611.6">2</text></g>
<g id="n217" class="n"><ellipse cx="2550.4" cy="605.3" rx="36" ry="24"/><text x="2550.4" y="611.6">5</text></g>
<g id="n218" class="n"><ellipse cx="3989" cy="605.3" rx="36" ry="24"/><text x="3989" y="611.6">9</text></g>
<g id="n219" class="n"><ellipse cx="4084.7" cy="605.3" rx="36" ry="24"/><text x="4084.7" y="611.6">36</text></g>
<g id="n220" class="n"><ellipse cx="4190" cy="605.3" rx="36" ry="24"/><text x="4190" y="611.6">9</text></g>
<g id="n221" class="n"><ellipse cx="4286.5" cy="605.3" rx="36" ry="24"/><text x="4286.5" y="611.6">36</text></g>
<g id="n222" class="n"><ellipse cx="4448" cy="605.3" rx="46" ry="24"/><text x="4448" y="611.6">R2774</text></g>
<g id="n223" class="n"><ellipse cx="4553.4" cy="605.3" rx="36" ry="24"/><text x="4553.4" y="611.6">15</text></g>
<g id="n224" class="n"><ellipse cx="5872.2" cy="605.3" rx="46" ry="24"/><text x="5872.2" y="611.6">R2186</text></g>
<g id="n225" class="n"><ellipse cx="5977" cy="605.3" rx="36" ry="24"/><text x="5977" y="611.6">39</text></g>
<g id="n226" class="n"><ellipse cx="6082.2" cy="605.3" rx="36" ry="24"/><text x="6082.2" y="611.6">30</text></g>
<g id="n227" class="n"><ellipse cx="6178.2" cy="605.3" rx="36" ry="24"/><text x="6178.2" y="611.6">39</text></g>
<g id="n228" class="n"><ellipse cx="4399.8" cy="701.3" rx="36" ry="24"/><text x="4399.8" y="707.6">9</text></g>
<g id="n229" class="n"><ellipse cx="4495.9" cy="701.3" rx="36" ry="24"/><text x="4495.9" y="707.6">36</text></g>
<g id="n230" class="n"><ellipse cx="5818" cy="701.3" rx="46" ry="24"/><text x="5818" y="707.6">R2072</text></g>
<g id="n231" class="n"><ellipse cx="5923.3" cy="701.3" rx="36" ry="24"/><text x="5923.3" y="707.6">30</text></g>
<g id="n232" class="n"><ellipse cx="5770.4" cy="797.3" rx="36" ry="24"/><text x="5770.4" y="803.6">30</text></g>
<g id="n233" class="n"><ellipse cx="5866.5" cy="797.3" rx="36" ry="24"/><text x="5866.5" y="803.6">39</text></g>
</g>
</svg>
